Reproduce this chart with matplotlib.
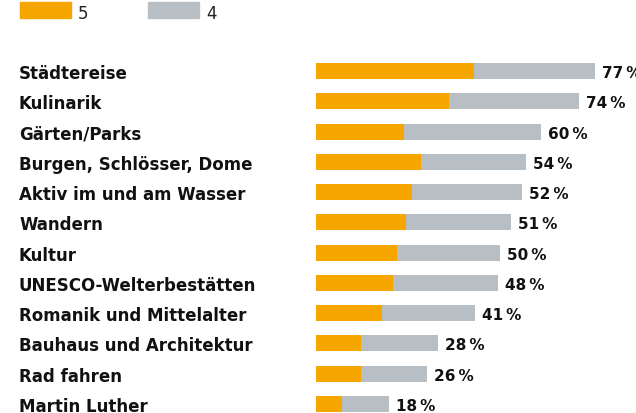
import matplotlib
matplotlib.use("Agg")
import matplotlib.pyplot as plt
from matplotlib.patches import Rectangle

categories = ["Städtereise", "Kulinarik", "Gärten/Parks", "Burgen, Schlösser, Dome",
              "Aktiv im und am Wasser", "Wandern", "Kultur", "UNESCO-Welterbestätten",
              "Romanik und Mittelalter", "Bauhaus und Architektur", "Rad fahren", "Martin Luther"]
score_5 = [42, 35.5, 23.5, 28, 25.5, 24, 21.5, 20.5, 17.5, 12, 12, 7]
score_4 = [32.5, 34.5, 36.5, 28, 29.5, 28, 27.5, 28, 25, 20.5, 17.5, 12.5]
totals = [77, 74, 60, 54, 52, 51, 50, 48, 41, 28, 26, 18]

orange = "#F7A600"
grey = "#B7BFC4"
W, H = 636, 414

plt.rcParams["font.family"] = ["DejaVu Sans"]
fig = plt.figure(figsize=(W / 100, H / 100), dpi=100)
ax = fig.add_axes([316 / W, 0, 320 / W, 1])
ax.set_xlim(0, 320 / 3.75)
row = 30.27
ax.set_ylim((H - 72) / row, -72 / row)
ax.axis("off")

ys = list(range(len(categories)))
ax.barh(ys, score_5, height=0.53, color=orange)
ax.barh(ys, score_4, left=score_5, height=0.53, color=grey)

for y, name, a, b, t in zip(ys, categories, score_5, score_4, totals):
    ax.text((19 - 316) / 320, y, name, transform=ax.get_yaxis_transform(),
            ha="left", va="center_baseline", fontsize=12, fontweight="bold", color="#111111")
    ax.text(a + b + 1.9, y, f"{t}\u202f%", ha="left", va="center_baseline",
            fontsize=11, fontweight="bold", color="#111111")

# legend
fig.patches.append(Rectangle((20 / W, 1 - 19 / H), 51 / W, 16 / H,
                             transform=fig.transFigure, color=orange))
fig.patches.append(Rectangle((148 / W, 1 - 19 / H), 51 / W, 16 / H,
                             transform=fig.transFigure, color=grey))
fig.text(78 / W, 1 - 12 / H, "5", ha="left", va="center_baseline", fontsize=12, color="#222222")
fig.text(206 / W, 1 - 12 / H, "4", ha="left", va="center_baseline", fontsize=12, color="#222222")

fig.savefig("out.png", dpi=100)
